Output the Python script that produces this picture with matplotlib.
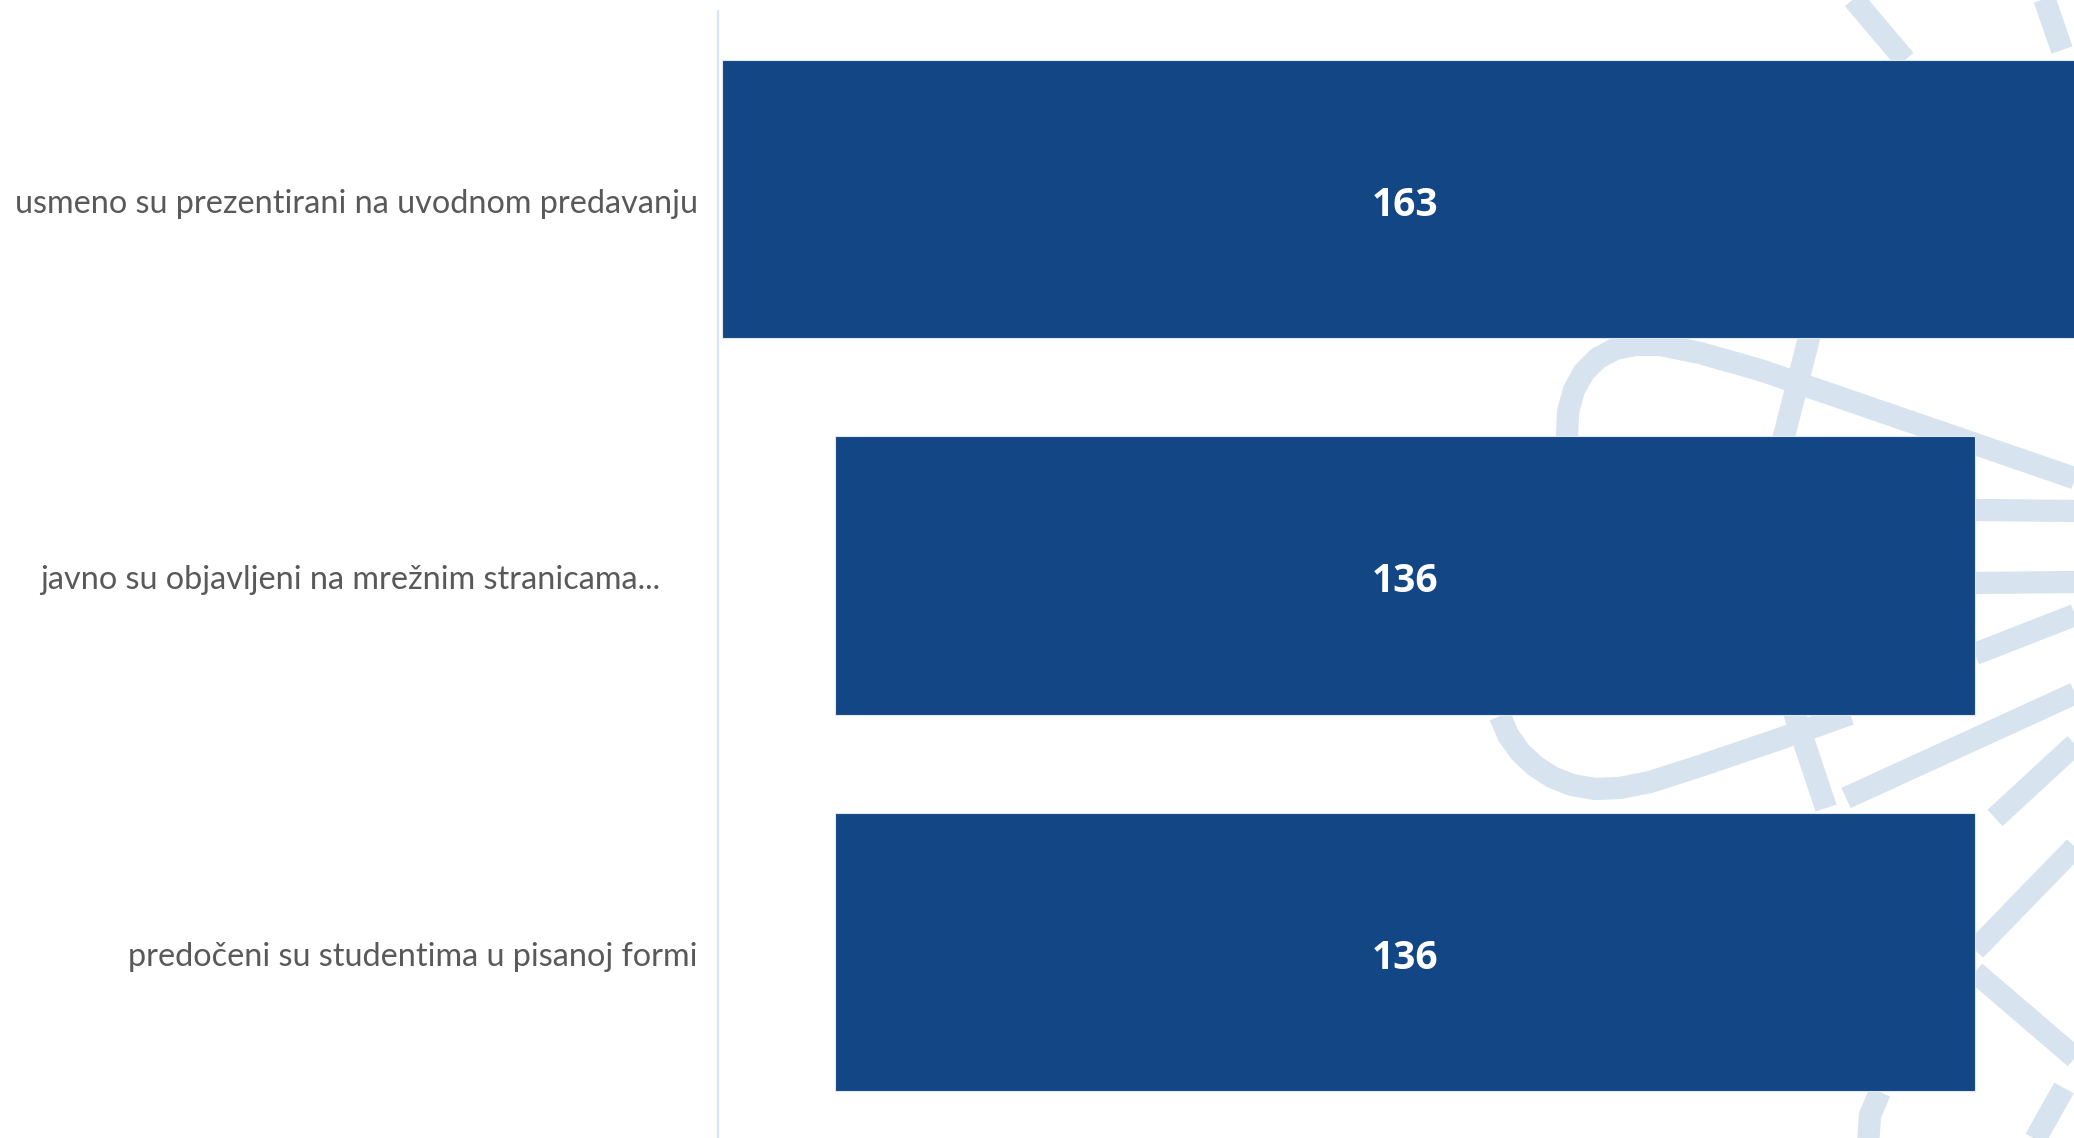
import matplotlib.pyplot as plt
from matplotlib.lines import Line2D
import numpy as np

categories = ["usmeno su prezentirani na uvodnom predavanju",
              "javno su objavljeni na mrežnim stranicama...",
              "predočeni su studentima u pisanoj formi"]
values = [163, 136, 136]

bar_color = "#134685"
mark_color = "#d7e3ef"
W, H = 2074, 1138

fig = plt.figure(figsize=(W / 100, H / 100), dpi=100)
fig.patch.set_facecolor("white")

# pozadinski logo (vodeni žig) - približno, u pikselima slike
strokes = [
    [(1567, 437), (1568, 412), (1574, 390), (1584, 372), (1598, 358), (1615, 349), (1635, 345),
     (1660, 345), (1700, 353), (1760, 370), (2080, 480)],
    [(1811, 330), (1783, 440)],
    [(1500, 716), (1508, 735), (1520, 752), (1535, 766), (1552, 777), (1572, 785), (1595, 789),
     (1620, 788), (1650, 782), (1700, 766), (1800, 732), (1850, 714)],
    [(1794, 712), (1826, 808)],
    [(1846, 798), (2080, 691)],
    [(2085, 735), (1995, 818)],
    [(1975, 510), (2080, 511)],
    [(1975, 583), (2080, 582)],
    [(1975, 654), (2080, 613)],
    [(1850, -5), (1905, 60)],
    [(2043, -5), (2062, 50)],
    [(2080, 842), (1975, 950)],
    [(1975, 972), (2080, 1062)],
    [(1880, 1092), (1870, 1115), (1868, 1145)],
    [(2064, 1088), (2032, 1145)],
]
for s in strokes:
    xs = [p[0] / W for p in s]
    ys = [1 - p[1] / H for p in s]
    fig.add_artist(Line2D(xs, ys, transform=fig.transFigure, color=mark_color,
                          lw=16, solid_capstyle="butt", solid_joinstyle="round", zorder=0))

ax = fig.add_axes([0.3462, -0.002, 0.6625, 0.9927])
ax.set_facecolor("none")
ax.set_zorder(1)

y = np.arange(len(values))
vals = np.array(values)
ax.barh(y, vals, left=-vals / 2, height=0.74, color=bar_color,
        edgecolor="#dfe7f1", linewidth=0.8)

for i, v in enumerate(values):
    ax.annotate(str(v), xy=(0, i), xytext=(0, -4.5), textcoords="offset points",
                ha="center", va="center", color="white",
                fontsize=28, fontweight="bold", family=["Open Sans", "DejaVu Sans"])

for i, lab in enumerate(categories):
    pad = 14.5
    if lab.endswith("..."):
        pad += 27
    ax.annotate(lab, xy=(0, i), xycoords=("axes fraction", "data"),
                xytext=(-pad, -3.5), textcoords="offset points",
                ha="right", va="center", color="#595959", fontsize=23.3,
                family=["Lato", "DejaVu Sans"])

ax.set_xlim(-82, 82)
ax.set_ylim(2.5, -0.5)
ax.set_xticks([])
ax.set_yticks([])
for sp in ["top", "right", "bottom"]:
    ax.spines[sp].set_visible(False)
ax.spines["left"].set_color("#d9e5f5")
ax.spines["left"].set_linewidth(1.6)

fig.savefig("out.png", dpi=100, facecolor="white")
